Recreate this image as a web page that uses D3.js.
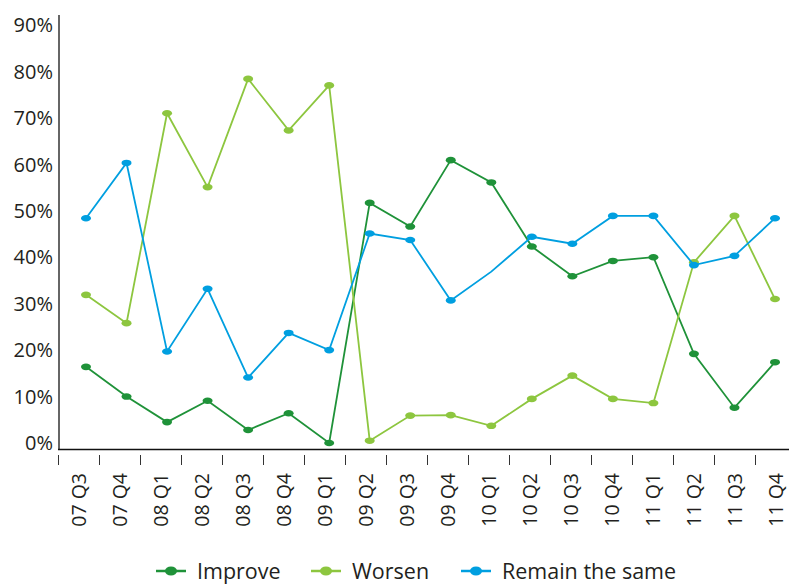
<!DOCTYPE html>
<html lang="en">
<head>
<meta charset="utf-8">
<script src="https://d3js.org/d3.v7.min.js"></script>
<style>
  body { margin: 0; background: #fff; }
  text { font-family: "Open Sans", "Noto Sans", sans-serif; fill: #231f20; }
</style>
</head>
<body>
<svg width="789" height="584"></svg>
<script>
// quarters along the x axis
var quarters = ["07 Q3","07 Q4","08 Q1","08 Q2","08 Q3","08 Q4","09 Q1","09 Q2","09 Q3",
                "09 Q4","10 Q1","10 Q2","10 Q3","10 Q4","11 Q1","11 Q2","11 Q3","11 Q4"];
var improve = [16.4, 10.0, 4.5, 9.1, 2.8, 6.4, 0.0, 51.7, 46.6, 60.9, 56.1, 42.3, 35.9, 39.2, 40.0, 19.2, 7.6, 17.4];
var worsen  = [31.9, 25.8, 71.0, 55.1, 78.4, 67.3, 77.0, 0.5, 5.9, 6.0, 3.7, 9.5, 14.5, 9.5, 8.6, 38.9, 48.9, 31.0];
var remain  = [48.4, 60.3, 19.7, 33.2, 14.1, 23.7, 20.0, 45.1, 43.7, 30.7, 36.9, 44.4, 42.9, 48.9, 48.9, 38.3, 40.3, 48.4];
// quarters where the chart shows no marker on the line
var remainNoMarker = ["10 Q1"];
var yTicks = [0, 10, 20, 30, 40, 50, 60, 70, 80, 90];

var series = [
  { name: "Improve", values: improve, color: "#1f9239", skip: [] },
  { name: "Worsen", values: worsen, color: "#8dc63f", skip: [] },
  { name: "Remain the same", values: remain, color: "#009fe0", skip: remainNoMarker }
];

var svg = d3.select("svg");

var y = d3.scaleLinear().domain([0, 90]).range([443, 25]);
// band scale gives the tick marks between quarters, point scale places the data
var xb = d3.scaleBand().domain(quarters).range([58.5, 796.5]);
var xp = d3.scalePoint().domain(quarters).range([86, 775]);

// y axis
svg.append("line")
  .attr("x1", 59).attr("x2", 59).attr("y1", 15).attr("y2", 449.5)
  .attr("stroke", "#333").attr("stroke-width", 1.5);
svg.selectAll(".ylab")
  .data(yTicks)
  .enter()
  .append("text")
  .attr("class", "ylab")
  .attr("x", 53)
  .attr("y", function (d) { return y(d); })
  .attr("dy", "0.36em")
  .attr("text-anchor", "end")
  .attr("font-size", "20px")
  .text(function (d) { return d + "%"; });

// x axis
svg.append("line")
  .attr("x1", 58).attr("x2", 789).attr("y1", 449.5).attr("y2", 449.5)
  .attr("stroke", "#111").attr("stroke-width", 1.5);
svg.selectAll(".xtick")
  .data(quarters)
  .enter()
  .append("line")
  .attr("class", "xtick")
  .attr("x1", function (d) { return xb(d); })
  .attr("x2", function (d) { return xb(d); })
  .attr("y1", 455).attr("y2", 465)
  .attr("stroke", "#333").attr("stroke-width", 1);
svg.selectAll(".xlab")
  .data(quarters)
  .enter()
  .append("text")
  .attr("class", "xlab")
  .attr("transform", function (d) {
    return "translate(" + (xb(d) + xb.bandwidth() / 2 + 7) + ",473) rotate(-90)";
  })
  .attr("text-anchor", "end")
  .attr("font-size", "19.5px")
  .text(function (d) { return d; });

// lines and markers
var line = d3.line()
  .x(function (d, i) { return xp(quarters[i]); })
  .y(function (d) { return y(d); });

series.forEach(function (s) {
  svg.append("path")
    .attr("d", line(s.values))
    .attr("fill", "none")
    .attr("stroke", s.color)
    .attr("stroke-width", 1.8);
  svg.append("g").selectAll("ellipse")
    .data(quarters.filter(function (q) { return s.skip.indexOf(q) < 0; }))
    .enter()
    .append("ellipse")
    .attr("cx", function (q) { return xp(q); })
    .attr("cy", function (q) { return y(s.values[quarters.indexOf(q)]); })
    .attr("rx", 5).attr("ry", 3.3)
    .attr("fill", s.color);
});

// legend
var legendX = [156, 311, 461];
var leg = svg.selectAll(".leg")
  .data(series)
  .enter()
  .append("g")
  .attr("class", "leg")
  .attr("transform", function (d, i) { return "translate(" + legendX[i] + ",571)"; });
leg.append("line")
  .attr("x1", 0).attr("x2", 30).attr("y1", 0).attr("y2", 0)
  .attr("stroke", function (d) { return d.color; })
  .attr("stroke-width", 2.5);
leg.append("ellipse")
  .attr("cx", 15).attr("cy", 0).attr("rx", 6).attr("ry", 4.5)
  .attr("fill", function (d) { return d.color; });
leg.append("text")
  .attr("x", 41)
  .attr("y", 0)
  .attr("dy", "0.35em")
  .attr("font-size", "21.5px")
  .text(function (d) { return d.name; });
</script>
</body>
</html>
